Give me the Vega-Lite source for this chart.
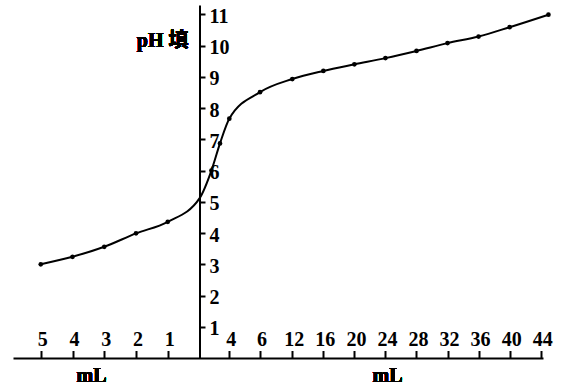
{
  "$schema": "https://vega.github.io/schema/vega-lite/v6.json",
  "width": 530,
  "height": 353,
  "autosize": "none",
  "padding": {"left": 13, "top": 5, "right": 18, "bottom": 30},
  "background": "white",
  "config": {
    "view": {"stroke": null},
    "font": "Liberation Serif"
  },
  "data": {
    "values": [
      {"x": -5, "pH": 3.0},
      {"x": -4, "pH": 3.24},
      {"x": -3, "pH": 3.56},
      {"x": -2, "pH": 3.99},
      {"x": -1, "pH": 4.36},
      {"x": 0, "pH": 5.11},
      {"x": 1.6, "pH": 6.0},
      {"x": 2.75, "pH": 6.87},
      {"x": 4, "pH": 7.66},
      {"x": 6, "pH": 8.51},
      {"x": 12, "pH": 8.93},
      {"x": 16, "pH": 9.19},
      {"x": 20, "pH": 9.4},
      {"x": 24, "pH": 9.6},
      {"x": 28, "pH": 9.83},
      {"x": 32, "pH": 10.08},
      {"x": 36, "pH": 10.29},
      {"x": 40, "pH": 10.59},
      {"x": 45, "pH": 10.99}
    ]
  },
  "layer": [
    {
      "mark": {"type": "line", "interpolate": "monotone", "color": "black", "strokeWidth": 2},
      "encoding": {
        "x": {
          "field": "x",
          "type": "quantitative",
          "scale": {
            "domain": [-5.875, 0, 4, 6, 12, 44.3],
            "range": [0, 186.5, 216.3, 247, 279.3, 530],
            "nice": false,
            "zero": false
          },
          "axis": {
            "orient": "top",
            "offset": -353,
            "values": [-5, -4, -3, -2, -1, 4, 6, 12, 16, 20, 24, 28, 32, 36, 40, 44],
            "tickCount": 40,
            "labelExpr": "'' + abs(datum.value)",
            "title": null,
            "grid": false,
            "tickSize": 7.5,
            "tickWidth": 2,
            "tickColor": "black",
            "domainColor": "black",
            "domainWidth": 2,
            "labelFont": "Liberation Serif",
            "labelFontSize": 20,
            "labelFontWeight": "bold",
            "labelColor": "black",
            "labelPadding": 5,
            "labelBaseline": "alphabetic",
            "labelOffset": 1.5,
            "labelFlush": false,
            "labelOverlap": false
          }
        },
        "y": {
          "field": "pH",
          "type": "quantitative",
          "scale": {"domain": [0, 11.3], "nice": false, "zero": false},
          "axis": {
            "orient": "right",
            "offset": -343.5,
            "values": [1, 2, 3, 4, 5, 6, 7, 8, 9, 10, 11],
            "tickCount": 30,
            "format": "d",
            "title": null,
            "grid": false,
            "tickSize": 5.5,
            "tickWidth": 2,
            "tickColor": "black",
            "domainColor": "black",
            "domainWidth": 2,
            "labelFont": "Liberation Serif",
            "labelFontSize": 20,
            "labelFontWeight": "bold",
            "labelColor": "black",
            "labelPadding": 4,
            "labelOffset": 2,
            "labelBaseline": "middle",
            "labelFlush": false,
            "labelOverlap": false
          }
        }
      }
    },
    {
      "transform": [{"filter": "datum.x != 0"}],
      "mark": {"type": "circle", "color": "black", "size": 22, "opacity": 1},
      "encoding": {
        "x": {"field": "x", "type": "quantitative"},
        "y": {"field": "pH", "type": "quantitative"}
      }
    },
    {
      "mark": {"type": "text", "text": "pH 填", "align": "right", "baseline": "alphabetic", "font": "Liberation Serif, Noto Sans CJK SC", "fontSize": 20, "fontWeight": "bold", "color": "black"},
      "encoding": {
        "x": {"datum": -0.346, "type": "quantitative"},
        "y": {"datum": 9.95, "type": "quantitative"}
      }
    },
    {
      "mark": {"type": "text", "text": "mL", "align": "center", "baseline": "alphabetic", "font": "Liberation Serif", "fontSize": 20, "fontWeight": "bold", "color": "black"},
      "encoding": {
        "x": {"datum": -3.4, "type": "quantitative"},
        "y": {"datum": -0.76, "type": "quantitative"}
      }
    },
    {
      "mark": {"type": "text", "text": "mL", "align": "center", "baseline": "alphabetic", "font": "Liberation Serif", "fontSize": 20, "fontWeight": "bold", "color": "black"},
      "encoding": {
        "x": {"datum": 24.27, "type": "quantitative"},
        "y": {"datum": -0.76, "type": "quantitative"}
      }
    }
  ]
}
